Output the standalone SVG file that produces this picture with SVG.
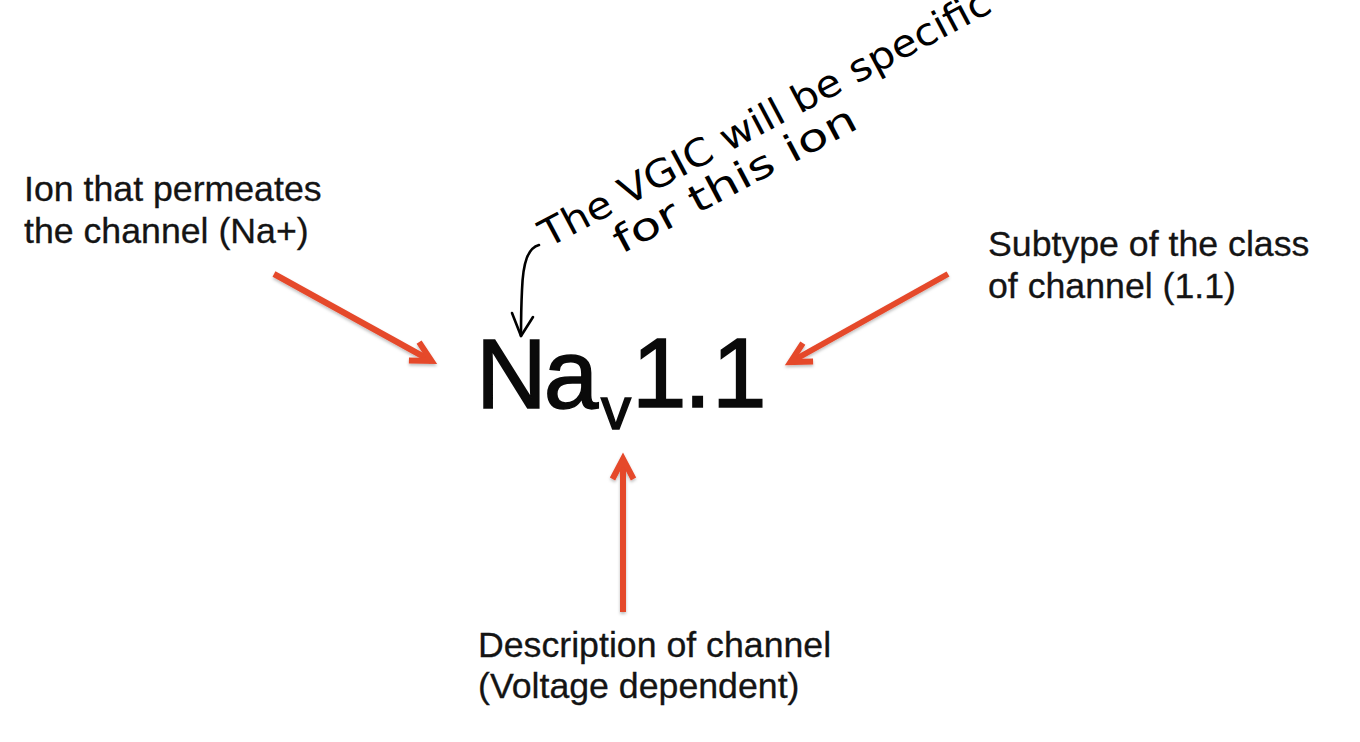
<svg xmlns="http://www.w3.org/2000/svg" width="1360" height="742" viewBox="0 0 1360 742">
  <style>
    .lbl { font-family: "Liberation Sans", Arial, sans-serif; font-size: 35.7px; fill: #141414; stroke: #141414; stroke-width: 0.3; }
    .main { font-family: "Liberation Sans", Arial, sans-serif; fill: #0a0a0a; stroke: #0a0a0a; stroke-width: 1.6; }
    .hand { font-family: "DejaVu Sans", sans-serif; font-size: 38px; fill: #000; }
    .arrow { stroke: #E5482C; stroke-width: 6; fill: none; stroke-linecap: butt; marker-end: url(#chev); filter: url(#sh); }
    .ink { stroke: #000; stroke-width: 2.6; fill: none; stroke-linecap: round; stroke-linejoin: round; }
  </style>
  <defs>
    <marker id="chev" markerUnits="userSpaceOnUse" markerWidth="60" markerHeight="60" viewBox="-30 -30 60 60" refX="0" refY="0" orient="auto" overflow="visible">
      <path d="M -20,-10.5 L 0,0 L -20,10.5" fill="none" stroke="#E5482C" stroke-width="6" stroke-linejoin="miter" stroke-miterlimit="10"/>
    </marker>
    <filter id="sh" filterUnits="userSpaceOnUse" x="0" y="0" width="1360" height="742">
      <feDropShadow dx="0" dy="2" stdDeviation="1.5" flood-color="#000" flood-opacity="0.25"/>
    </filter>
  </defs>
  <rect width="1360" height="742" fill="#fff"/>

  <g id="connectors">
    <path class="arrow" d="M 274,274 L 431.5,361"/>
    <path class="arrow" d="M 948,274 L 790.5,362"/>
    <path class="arrow" d="M 623,612 L 623,459"/>
    <path class="ink" d="M 539,245 C 528,248 523,262 522,290 C 521,310 521,325 521,336"/>
    <path class="ink" d="M 512,313 L 521,336 L 533,317"/>
  </g>

  <g id="node-ion">
    <text class="lbl" x="24" y="201">Ion that permeates</text>
    <text class="lbl" x="24" y="243">the channel (Na+)</text>
  </g>

  <g id="node-subtype">
    <text class="lbl" x="988" y="256">Subtype of the class</text>
    <text class="lbl" x="988" y="298">of channel (1.1)</text>
  </g>

  <g id="node-description">
    <text class="lbl" x="478" y="657">Description of channel</text>
    <text class="lbl" x="478" y="698">(Voltage dependent)</text>
  </g>

  <g id="node-nav">
    <text class="main" x="476" y="408" font-size="98" letter-spacing="-3">Na</text>
    <text class="main" x="601" y="429" font-size="60">v</text>
    <text class="main" x="632 684 712" y="407" font-size="98" stroke-width="3">1.1</text>
  </g>

  <g id="note" transform="translate(548,248) rotate(-28)">
    <text class="hand" x="0" y="0" textLength="505" lengthAdjust="spacingAndGlyphs">The VGIC will be specific</text>
    <text class="hand" x="62" y="40" textLength="270" lengthAdjust="spacingAndGlyphs">for this ion</text>
  </g>
</svg>
